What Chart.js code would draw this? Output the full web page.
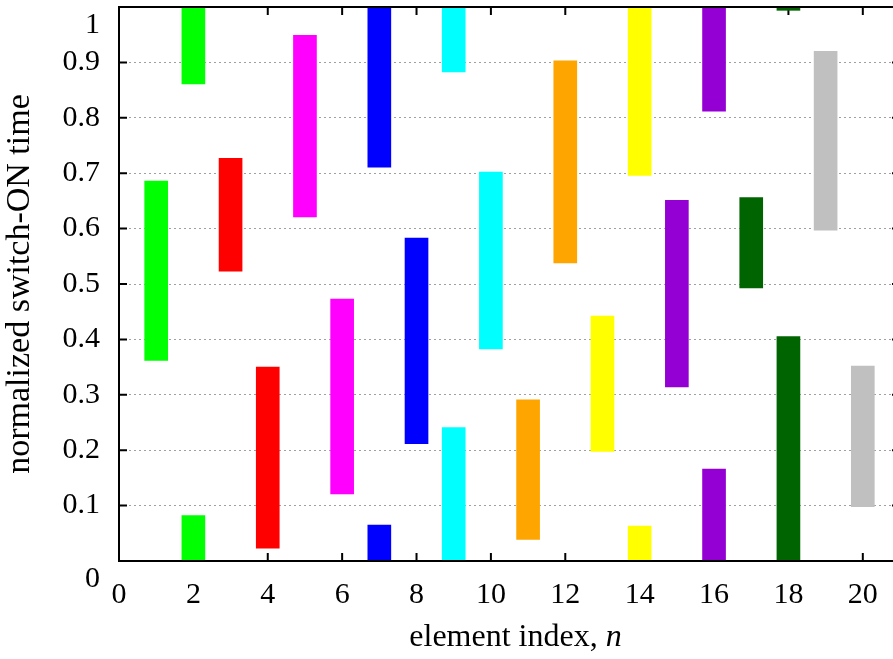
<!DOCTYPE html>
<html>
<head>
<meta charset="utf-8">
<script src="https://cdn.jsdelivr.net/npm/chart.js@4/dist/chart.umd.min.js"></script>
<style>
  html, body { margin: 0; padding: 0; background: #fff; overflow: hidden; }
  #wrap { width: 901px; height: 659px; }
</style>
</head>
<body>
<div id="wrap"><canvas id="chart" width="901" height="659"></canvas></div>
<script>
// Element indices and their normalized switch-ON / switch-OFF times.
// An OFF time above 1 wraps around into the next period.
const elementIndex = [1, 2, 3, 4, 5, 6, 7, 8, 9, 10, 11, 12, 13, 14, 15, 16, 17, 18, 19, 20];
const switchOn  = [0.362, 0.861, 0.523, 0.023, 0.621, 0.121, 0.711, 0.212, 0.883, 0.383,
                   0.039, 0.538, 0.198, 0.696, 0.314, 0.812, 0.493, 0.994, 0.597, 0.098];
const switchOff = [0.686, 1.082, 0.727, 0.350, 0.949, 0.473, 1.065, 0.583, 1.241, 0.702,
                   0.291, 0.903, 0.442, 1.063, 0.651, 1.166, 0.656, 1.405, 0.920, 0.352];

// One colour per pair of neighbouring elements.
const pairColors = ['#00ff00', '#ff0000', '#ff00ff', '#0000ff', '#00ffff',
                    '#ffa500', '#ffff00', '#9400d3', '#006400', '#c0c0c0'];

const xTickLabels = ['0', '2', '4', '6', '8', '10', '12', '14', '16', '18', '20'];
const yTickLabels = ['0', '0.1', '0.2', '0.3', '0.4', '0.5', '0.6', '0.7', '0.8', '0.9', '1'];

const colorOf = n => pairColors[Math.floor((n - 1) / 2)];

// Main ON interval (clipped at 1) and the wrapped remainder starting at 0.
const mainSegments = elementIndex.map((n, i) => ({ x: n, y: [switchOn[i], Math.min(switchOff[i], 1)] }));
const wrapSegments = elementIndex
  .map((n, i) => ({ x: n, y: [0, switchOff[i] - 1] }))
  .filter(d => d.y[1] > 0);

const FONT = 'Liberation Serif, Times New Roman, serif';

// Inward tick marks on all four sides (under the bars), the closed frame and the x title.
const frameAndTicks = {
  id: 'frameAndTicks',
  beforeDatasetsDraw(chart) {
    const { ctx, chartArea: a, scales: { x, y } } = chart;
    const len = 8;
    ctx.save();
    ctx.strokeStyle = '#000';
    ctx.lineWidth = 2;
    ctx.beginPath();
    x.ticks.forEach(t => {
      const px = x.getPixelForValue(t.value);
      ctx.moveTo(px, a.bottom); ctx.lineTo(px, a.bottom - len);
      ctx.moveTo(px, a.top);    ctx.lineTo(px, a.top + len);
    });
    y.ticks.forEach(t => {
      const py = y.getPixelForValue(t.value);
      ctx.moveTo(a.left, py);  ctx.lineTo(a.left + len, py);
      ctx.moveTo(a.right, py); ctx.lineTo(a.right - len, py);
    });
    ctx.stroke();
    ctx.restore();
  },
  afterDatasetsDraw(chart) {
    const { ctx, chartArea: a } = chart;
    ctx.save();
    ctx.strokeStyle = '#000';
    ctx.lineWidth = 2;
    ctx.strokeRect(a.left, a.top, a.right - a.left, a.bottom - a.top);
    ctx.restore();
  },
  afterDraw(chart) {
    // x-axis title with an italic "n"
    const { ctx, scales: { x } } = chart;
    const plain = 'element index, ';
    const ital = 'n';
    const size = 32;
    ctx.save();
    ctx.fillStyle = '#000';
    ctx.textBaseline = 'middle';
    ctx.font = size + 'px ' + FONT;
    const w1 = ctx.measureText(plain).width;
    ctx.font = 'italic ' + size + 'px ' + FONT;
    const w2 = ctx.measureText(ital).width;
    const cx = (x.left + x.right) / 2 + 6;
    const ty = x.bottom - 21;
    const start = cx - (w1 + w2) / 2;
    ctx.textAlign = 'left';
    ctx.font = size + 'px ' + FONT;
    ctx.fillText(plain, start, ty);
    ctx.font = 'italic ' + size + 'px ' + FONT;
    ctx.fillText(ital, start + w1, ty);
    ctx.restore();
  }
};

new Chart(document.getElementById('chart'), {
  type: 'bar',
  data: {
    datasets: [
      {
        data: mainSegments,
        backgroundColor: ctx => colorOf(ctx.raw.x),
        borderWidth: 0,
        grouped: false,
        barThickness: 23
      },
      {
        data: wrapSegments,
        backgroundColor: ctx => colorOf(ctx.raw.x),
        borderWidth: 0,
        grouped: false,
        barThickness: 23
      }
    ]
  },
  options: {
    responsive: false,
    animation: false,
    layout: { padding: { top: 7, right: 1, left: 0, bottom: 0 } },
    plugins: {
      legend: { display: false },
      tooltip: { enabled: false }
    },
    scales: {
      x: {
        type: 'linear',
        offset: false,
        min: 0,
        max: 21,
        grid: { display: false, drawTicks: false },
        border: { display: false },
        ticks: {
          stepSize: 2,
          includeBounds: false,
          maxRotation: 0,
          autoSkip: false,
          padding: 16,
          color: '#000',
          font: { family: FONT, size: 30 },
          callback: v => xTickLabels[Math.round(v / 2)]
        },
        afterFit(s) { s.height = 98; s.paddingLeft = 0; s.paddingRight = 0; }
      },
      y: {
        min: 0,
        max: 1,
        grid: { color: '#a0a0a0', lineWidth: 1, drawTicks: false },
        border: { display: false, dash: [2, 3] },
        ticks: {
          stepSize: 0.1,
          autoSkip: false,
          padding: 19,
          color: '#000',
          font: { family: FONT, size: 30 },
          callback: (v, i, ticks) => {
            const s = yTickLabels[i];
            return (i === 0 || i === ticks.length - 1) ? ['', s] : s;
          }
        },
        title: {
          display: true,
          text: 'normalized switch-ON time',
          color: '#000',
          font: { family: FONT, size: 34 },
          padding: { top: 0, bottom: 0 }
        },
        afterFit(s) { s.width = 119; s.paddingTop = 0; s.paddingBottom = 0; }
      }
    }
  },
  plugins: [frameAndTicks]
});
</script>
</body>
</html>
